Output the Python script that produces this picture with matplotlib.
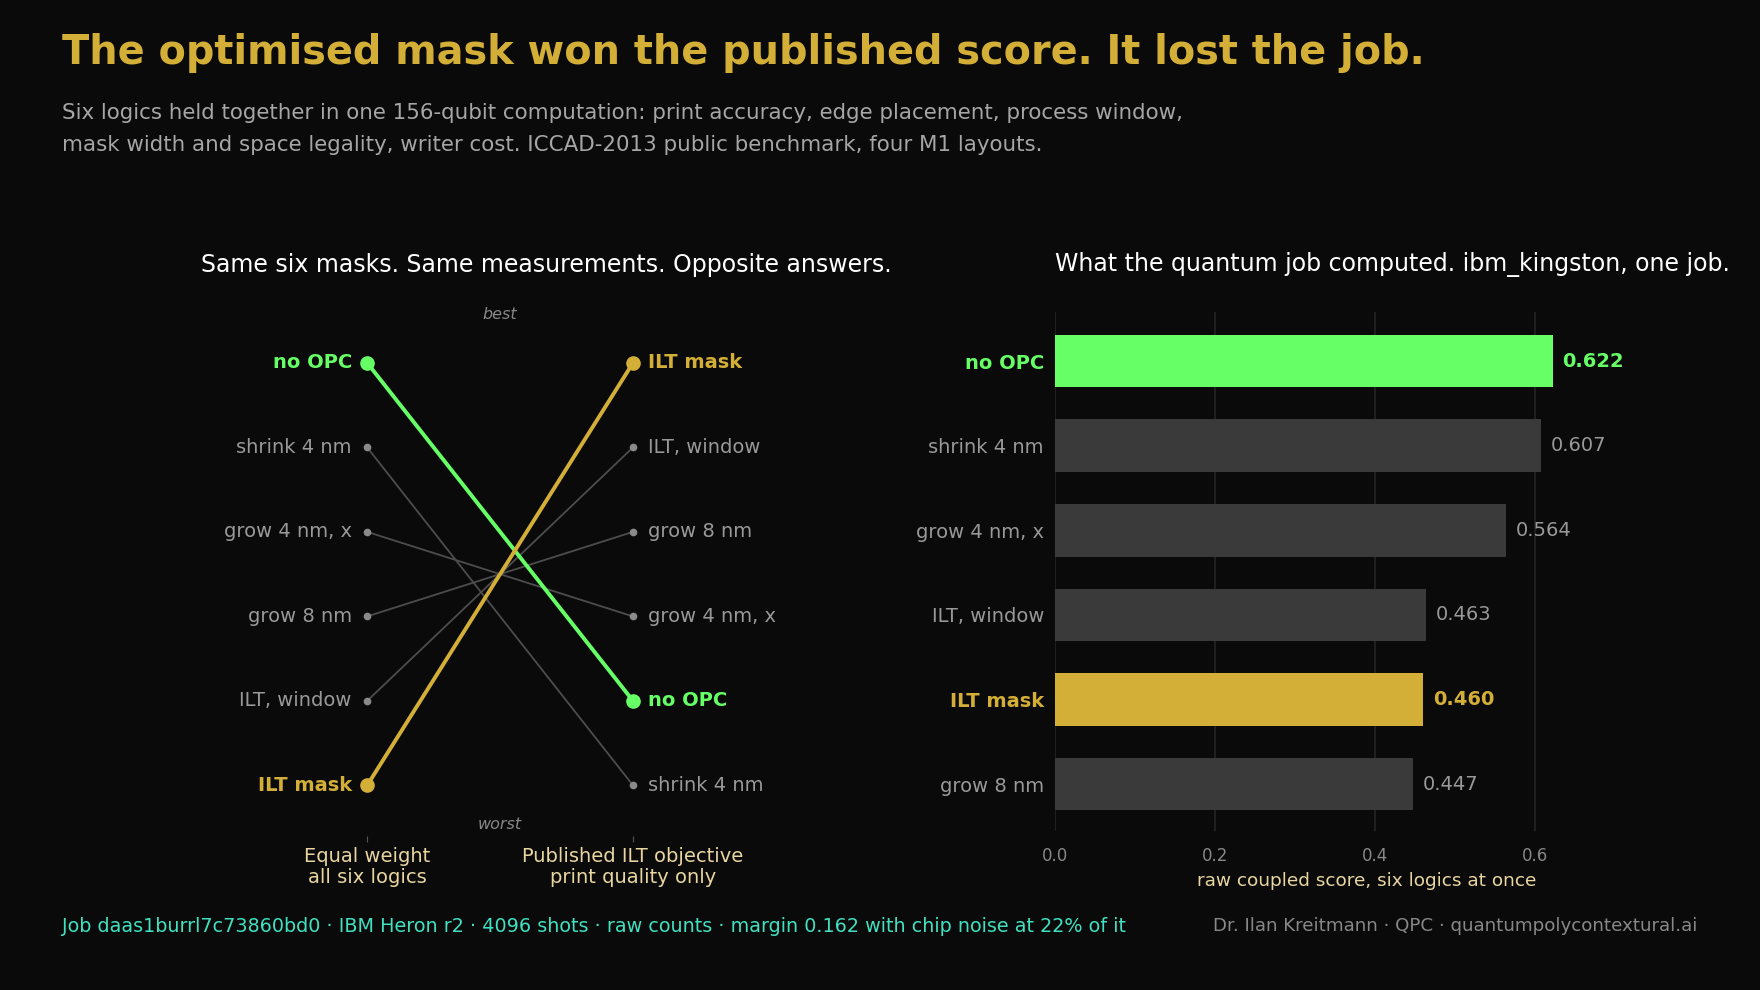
import matplotlib
matplotlib.use("Agg")
import matplotlib.pyplot as plt

# ---------------- data ----------------
masks = ["no OPC", "shrink 4 nm", "grow 4 nm, x", "grow 8 nm", "ILT, window", "ILT mask"]
rank_equal = [0, 1, 2, 3, 4, 5]        # rank under equal weight (0 = best)
rank_published = [4, 5, 3, 2, 1, 0]    # rank under published ILT objective
column_labels = ["Equal weight\nall six logics", "Published ILT objective\nprint quality only"]

bar_labels = ["no OPC", "shrink 4 nm", "grow 4 nm, x", "ILT, window", "ILT mask", "grow 8 nm"]
bar_values = [0.622, 0.607, 0.564, 0.463, 0.460, 0.447]
x_ticks = [0.0, 0.2, 0.4, 0.6]

# ---------------- style ----------------
BG = "#0a0a0a"
GREEN = "#66ff66"
GOLD = "#d4af37"
GRAY_TXT = "#999999"
GRAY_LINE = "#4d4d4d"
BAR_GRAY = "#3a3a3a"
TAN = "#e8d5a0"
TEAL = "#40e0c0"
highlight = {"no OPC": GREEN, "ILT mask": GOLD}

plt.rcParams["font.family"] = ["DejaVu Sans"]
fig = plt.figure(figsize=(17.6, 9.9), dpi=100, facecolor=BG)

W, H = 1568.0, 882.0
def fx(px): return px / W
def fy(py): return 1 - py / H

# titles
fig.text(fx(55), fy(47), "The optimised mask won the published score. It lost the job.",
         color=GOLD, fontsize=28.6, fontweight="bold", va="center", ha="left")
fig.text(fx(55), fy(101), "Six logics held together in one 156-qubit computation: print accuracy, edge placement, process window,",
         color="#a6a6a6", fontsize=15.4, va="center", ha="left")
fig.text(fx(55), fy(129), "mask width and space legality, writer cost. ICCAD-2013 public benchmark, four M1 layouts.",
         color="#a6a6a6", fontsize=15.4, va="center", ha="left")

# ---------------- left: slope chart ----------------
axL = fig.add_axes([fx(160), fy(745), fx(814) - fx(160), fy(278) - fy(745)])
axL.set_facecolor(BG)
axL.set_xlim(-0.705, 2.055)
axL.set_ylim(5.6, -0.6)
for s in axL.spines.values():
    s.set_visible(False)
axL.set_yticks([])
axL.set_xticks([0, 1])
axL.set_xticklabels(column_labels, color=TAN, fontsize=14, linespacing=1.1)
axL.tick_params(axis="x", length=4, width=0.8, color="#555555", pad=4)

order = sorted(range(len(masks)), key=lambda i: masks[i] in highlight)
for i in order:
    name = masks[i]
    y0, y1 = rank_equal[i], rank_published[i]
    if name in highlight:
        c = highlight[name]
        axL.plot([0, 1], [y0, y1], color=c, lw=2.8, zorder=3, solid_capstyle="round")
        axL.plot([0, 1], [y0, y1], "o", color=c, ms=9.5, zorder=4)
        tc, fw = c, "bold"
    else:
        axL.plot([0, 1], [y0, y1], color=GRAY_LINE, lw=1.3, zorder=2)
        axL.plot([0, 1], [y0, y1], "o", color="#8a8a8a", ms=4.5, zorder=2)
        tc, fw = GRAY_TXT, "normal"
    axL.annotate(name, (0, y0), xytext=(-11, 0), textcoords="offset points",
                 ha="right", va="center", color=tc, fontsize=14, fontweight=fw)
    axL.annotate(name, (1, y1), xytext=(11, 0), textcoords="offset points",
                 ha="left", va="center", color=tc, fontsize=14, fontweight=fw)

axL.text(0.5, -0.57, "best", color="#888888", fontsize=11.5, style="italic", ha="center", va="center")
axL.text(0.5, 5.46, "worst", color="#888888", fontsize=11.5, style="italic", ha="center", va="center")

fig.text(fx(487), fy(236), "Same six masks. Same measurements. Opposite answers.",
         color="white", fontsize=17, ha="center", va="center")

# ---------------- right: bar chart ----------------
axR = fig.add_axes([fx(940), fy(740), fx(1496) - fx(940), fy(278) - fy(740)])
axR.set_facecolor(BG)
axR.set_xlim(0, 0.78)
axR.set_ylim(5.55, -0.58)
for s in axR.spines.values():
    s.set_visible(False)
ypos = list(range(len(bar_labels)))
colors = [highlight.get(n, BAR_GRAY) for n in bar_labels]
axR.barh(ypos, bar_values, height=0.62, color=colors, zorder=3)
axR.set_xticks(x_ticks)
axR.set_xticklabels([f"{v:.1f}" for v in x_ticks])
axR.tick_params(axis="x", length=0, colors="#888888", labelsize=12, pad=12)
axR.set_yticks(ypos)
axR.set_yticklabels(bar_labels, fontsize=14)
axR.tick_params(axis="y", length=0, pad=8)
for lbl, n in zip(axR.get_yticklabels(), bar_labels):
    if n in highlight:
        lbl.set_color(highlight[n]); lbl.set_fontweight("bold")
    else:
        lbl.set_color(GRAY_TXT)
for xv in x_ticks:
    axR.axvline(xv, color="#262626", lw=1.1, zorder=1)
for y, v, n in zip(ypos, bar_values, bar_labels):
    c = highlight.get(n, GRAY_TXT)
    axR.annotate(f"{v:.3f}", (v, y), xytext=(7, 0), textcoords="offset points",
                 ha="left", va="center", color=c, fontsize=14,
                 fontweight="bold" if n in highlight else "normal")
axR.set_xlabel("raw coupled score, six logics at once", color=TAN, fontsize=13.3, labelpad=5)

fig.text(fx(940), fy(236), "What the quantum job computed. ibm_kingston, one job.",
         color="white", fontsize=17, ha="left", va="center")

# ---------------- footer ----------------
fig.text(fx(55), fy(825), "Job daas1burrl7c73860bd0 · IBM Heron r2 · 4096 shots · raw counts · margin 0.162 with chip noise at 22% of it",
         color=TEAL, fontsize=13.8, ha="left", va="center")
fig.text(fx(1512), fy(825), "Dr. Ilan Kreitmann · QPC · quantumpolycontextural.ai",
         color="#888888", fontsize=13.15, ha="right", va="center")

fig.savefig("out.png", dpi=100, facecolor=BG)
